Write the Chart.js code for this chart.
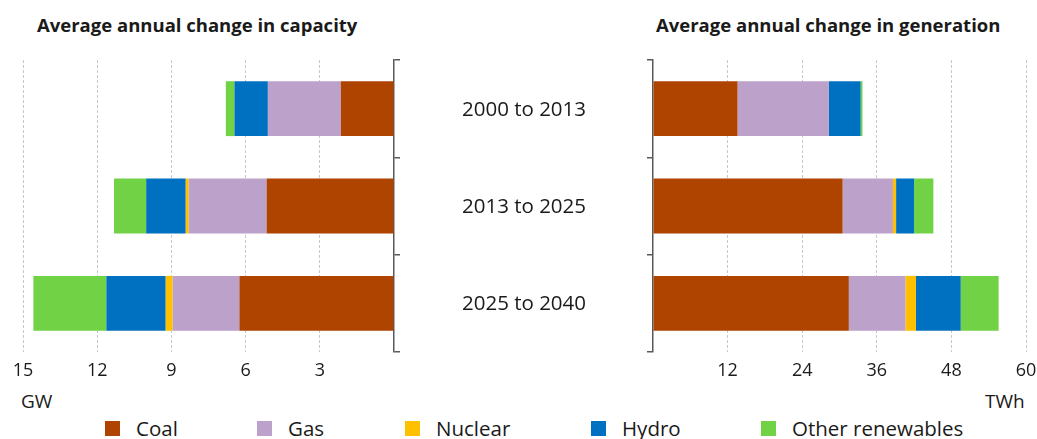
<!DOCTYPE html>
<html>
<head>
<meta charset="utf-8">
<script src="https://cdn.jsdelivr.net/npm/chart.js@4.4.0/dist/chart.umd.min.js"></script>
<style>
    body { margin: 0; background: #fff; width: 1037px; height: 439px; overflow: hidden; position: relative; font-family: "Open Sans", sans-serif; color: #1a1a1a; }
    .title { position: absolute; top: 12px; font-weight: 700; font-size: 18.5px; line-height: 26px; white-space: nowrap; }
    .unit { position: absolute; top: 388px; font-size: 19px; line-height: 26px; }
    .legend-item { position: absolute; top: 414px; font-size: 20.5px; line-height: 28px; white-space: nowrap; display: flex; align-items: center; }
    .legend-item span { display: inline-block; width: 15px; height: 15px; margin-right: 16px; }
    canvas { position: absolute; top: 0; }
</style>
</head>
<body>
<div class="title" style="left:37px">Average annual change in capacity</div>
<div class="title" style="left:656px">Average annual change in generation</div>
<div class="unit" style="left:21px">GW</div>
<div class="unit" style="left:985px">TWh</div>
<div id="legend"></div>
<canvas id="capacity-chart" width="600" height="400" style="left:0"></canvas>
<canvas id="generation-chart" width="437" height="400" style="left:600px"></canvas>
<script>
var periods = ["2000 to 2013", "2013 to 2025", "2025 to 2040"];
var sources = ["Coal", "Gas", "Nuclear", "Hydro", "Other renewables"];
var colours = ["#AE4400", "#BCA2CA", "#FFC000", "#0070C0", "#70D244"];

// GW per year
var capacityCoal = [2.15, 5.15, 6.25];
var capacityGas = [2.95, 3.15, 2.7];
var capacityNuclear = [0, 0.12, 0.28];
var capacityHydro = [1.35, 1.6, 2.4];
var capacityOther = [0.35, 1.3, 2.95];
var capacityTicks = [15, 12, 9, 6, 3];

// TWh per year
var generationCoal = [13.6, 30.5, 31.5];
var generationGas = [14.7, 8.1, 9.1];
var generationNuclear = [0, 0.5, 1.7];
var generationHydro = [5.1, 2.9, 7.2];
var generationOther = [0.3, 3.1, 6.1];
var generationTicks = [12, 24, 36, 48, 60];

var legendLeft = [105, 257, 405, 591, 761];

var axisColour = "#595959";
var gridColour = "#c8c8c8";
var textColour = "#1a1a1a";

function buildDatasets(series) {
    return series.map(function(values, i) {
        return {
            label: sources[i],
            data: values,
            backgroundColor: colours[i],
            borderWidth: 0,
            categoryPercentage: 1,
            barPercentage: 0.564
        };
    });
}

// period names sit between the two charts, on the category positions
var periodLabels = {
    id: "periodLabels",
    afterDraw: function(chart) {
        var ctx = chart.ctx;
        var yScale = chart.scales.y;
        ctx.save();
        ctx.font = "20.5px 'Open Sans'";
        ctx.fillStyle = textColour;
        ctx.textAlign = "center";
        ctx.textBaseline = "middle";
        for (var i = 0; i < periods.length; i++) {
            ctx.fillText(periods[i], 524, yScale.getPixelForValue(i) + 1);
        }
        ctx.restore();
    }
};

function barChart(canvas, series, max, step, tickValues, reverse, yPosition, padding, plugins) {
    return new Chart(canvas, {
        type: "bar",
        data: {
            labels: periods,
            datasets: buildDatasets(series)
        },
        options: {
            indexAxis: "y",
            responsive: false,
            animation: false,
            layout: { padding: padding },
            plugins: {
                legend: { display: false },
                tooltip: { enabled: false }
            },
            scales: {
                x: {
                    stacked: true,
                    reverse: reverse,
                    min: 0,
                    max: max,
                    afterFit: function(scale) { scale.height = 48; },
                    ticks: {
                        stepSize: step,
                        padding: 0,
                        color: textColour,
                        font: { family: "'Open Sans'", size: 18 },
                        maxRotation: 0,
                        callback: function(value) {
                            return tickValues.indexOf(value) >= 0 ? String(value) : "";
                        }
                    },
                    grid: {
                        drawTicks: true,
                        tickLength: 8,
                        tickColor: "rgba(0,0,0,0)",
                        color: function(ctx) {
                            return ctx.tick && ctx.tick.value === 0 ? "rgba(0,0,0,0)" : gridColour;
                        },
                        lineWidth: 1
                    },
                    border: { display: false, dash: [3, 2] }
                },
                y: {
                    stacked: true,
                    position: yPosition,
                    afterFit: function(scale) { scale.width = 10; },
                    ticks: { display: false },
                    grid: {
                        drawOnChartArea: false,
                        drawTicks: true,
                        tickLength: 6,
                        color: axisColour,
                        lineWidth: 1.5
                    },
                    border: { display: true, color: axisColour, width: 1.5 }
                }
            }
        },
        plugins: plugins
    });
}

barChart(
    document.getElementById("capacity-chart"),
    [capacityCoal, capacityGas, capacityNuclear, capacityHydro, capacityOther],
    15, 3, capacityTicks, true, "right",
    { left: 23, top: 60, right: 196, bottom: 0 },
    [periodLabels]
);

barChart(
    document.getElementById("generation-chart"),
    [generationCoal, generationGas, generationNuclear, generationHydro, generationOther],
    60, 12, generationTicks, false, "left",
    { left: 43, top: 60, right: 11, bottom: 0 },
    []
);

// legend
var legend = document.getElementById("legend");
sources.forEach(function(name, i) {
    var item = document.createElement("div");
    item.className = "legend-item";
    item.style.left = legendLeft[i] + "px";
    var box = document.createElement("span");
    box.style.background = colours[i];
    item.appendChild(box);
    item.appendChild(document.createTextNode(name));
    legend.appendChild(item);
});
</script>
</body>
</html>
